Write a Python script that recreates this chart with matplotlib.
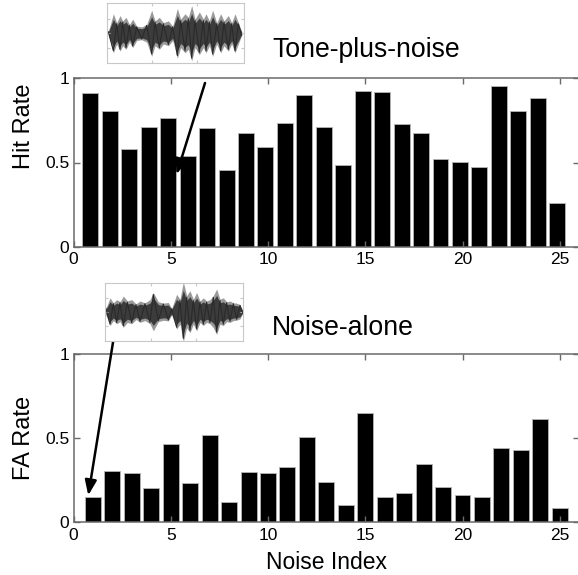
import numpy as np
import matplotlib
matplotlib.use("Agg")
import matplotlib.pyplot as plt

plt.rcParams['font.family'] = ['Liberation Sans', 'DejaVu Sans']

# ---- data ----
noise_index = list(range(1, 26))
hit_rate = [0.911, 0.804, 0.578, 0.713, 0.766, 0.539, 0.707, 0.457, 0.677, 0.592,
            0.737, 0.903, 0.713, 0.487, 0.925, 0.917, 0.729, 0.677, 0.519, 0.503,
            0.471, 0.956, 0.804, 0.881, 0.259]
fa_rate = [0.150, 0.307, 0.293, 0.202, 0.465, 0.232, 0.519, 0.119, 0.299, 0.293,
           0.331, 0.505, 0.240, 0.105, 0.648, 0.150, 0.172, 0.345, 0.210, 0.164,
           0.150, 0.444, 0.430, 0.616, 0.087]
xticks = [0, 5, 10, 15, 20, 25]
yticks = [0, 0.5, 1]
ytick_labels = ['0', '0.5', '1']

# waveform envelopes for insets (position within box 0..1, amplitude 0..1)
tone_env_x = [25, 40, 50, 60, 68, 78, 88, 98, 110, 125, 140, 155, 165, 178, 190, 205,
              218, 232, 242, 255, 265, 275, 285, 298, 310, 318, 328, 338, 350, 362,
              372, 385, 395, 405, 415, 425]
tone_env_a = [5, 55, 30, 50, 35, 45, 25, 40, 20, 18, 25, 65, 35, 45, 30, 35,
              20, 70, 40, 55, 45, 78, 40, 60, 40, 55, 35, 65, 30, 55,
              35, 50, 30, 55, 30, 5]
noise_env_x = [18, 30, 40, 50, 60, 70, 82, 95, 108, 120, 135, 150, 160, 175, 190, 205,
               215, 230, 240, 250, 260, 270, 280, 290, 300, 310, 320, 330, 340, 350,
               360, 370, 380, 390, 400, 410, 420, 428]
noise_env_a = [10, 39, 25, 34, 28, 44, 30, 34, 22, 30, 25, 34, 54, 28, 24, 26,
               9, 49, 35, 84, 45, 59, 35, 54, 30, 39, 30, 34, 45, 64,
               35, 39, 28, 30, 25, 24, 20, 5]

W, H = 578, 575
fig = plt.figure(figsize=(W / 100, H / 100), dpi=100)

spine_col = '#6a6a6a'
tick_fs = 12.5


def style_axes(ax):
    ax.set_xlim(0, 26)
    ax.set_ylim(0, 1)
    ax.set_xticks(xticks)
    ax.set_yticks(yticks)
    ax.set_yticklabels(ytick_labels)
    for s in ax.spines.values():
        s.set_color(spine_col)
        s.set_linewidth(1.1)
    ax.tick_params(direction='in', length=4, width=1, color=spine_col,
                   top=True, right=True, labelsize=tick_fs)
    ax.tick_params(axis='x', pad=4)
    ax.tick_params(axis='y', pad=3)


ax1 = fig.add_axes([73.5 / W, 1 - 246.7 / H, 26 * 19.45 / W, 168.4 / H])
ax1.bar(np.array(noise_index) - 0.13, hit_rate, width=0.82, color='black',
        edgecolor='#b5b5b5', linewidth=0.6)
style_axes(ax1)

ax2 = fig.add_axes([73.5 / W, 1 - 522.3 / H, 26 * 19.45 / W, 168.3 / H])
ax2.bar(noise_index, fa_rate, width=0.82, color='black',
        edgecolor='#b5b5b5', linewidth=0.6)
style_axes(ax2)

# labels
fig.text(23.5 / W, 1 - 126 / H, 'Hit Rate', rotation=90, ha='center', va='center', fontsize=17)
fig.text(23.5 / W, 1 - 438 / H, 'FA Rate', rotation=90, ha='center', va='center', fontsize=17)
fig.text(326.5 / W, 1 - 569.3 / H, 'Noise Index', ha='center', va='baseline', fontsize=16.5)
fig.text(272 / W, 1 - 57 / H, 'Tone-plus-noise', ha='left', va='baseline', fontsize=19.2)
fig.text(272 / W, 1 - 335 / H, 'Noise-alone', ha='left', va='baseline', fontsize=19.2)


def inset(rect, ex, ea, xr, half):
    ax = fig.add_axes(rect)
    x = (np.array(ex) - xr[0]) / (xr[1] - xr[0])
    a = np.array(ea) / half
    ax.fill_between(x, -a * 1.12, a * 1.12, color='#9a9a9a', lw=0)
    ax.fill_between(x, -a * 0.8, a * 0.8, color='#3c3c3c', lw=0)
    zig = a * np.where(np.arange(len(a)) % 2 == 0, 1, -1)
    ax.plot(x, zig, color='#2a2a2a', lw=0.8)
    ax.set_xlim(0, 1)
    ax.set_ylim(-1.05, 1.05)
    for s in ax.spines.values():
        s.set_color('#c8c8c8')
        s.set_linewidth(0.8)
    ax.set_xticks([0.33, 0.66])
    ax.set_yticks([-0.5, 0, 0.5])
    ax.tick_params(direction='in', length=2, color='#c8c8c8', labelbottom=False,
                   labelleft=False, top=True, right=True)
    return ax


inset([106.7 / W, 1 - 63.3 / H, 137.3 / W, 60 / H], tone_env_x, tone_env_a, (20, 432), 90)
inset([105 / W, 1 - 340.7 / H, 138.3 / W, 58 / H], noise_env_x, noise_env_a, (15, 430), 87)

arrow_kw = dict(arrowstyle='-|>,head_length=0.9,head_width=0.35', color='black', lw=1.8,
                shrinkA=0, shrinkB=0)
ax1.annotate('', xy=(5.3, 0.43), xycoords='data',
             xytext=(205 / W, 1 - 83 / H), textcoords='figure fraction',
             arrowprops=arrow_kw, annotation_clip=False)
ax2.annotate('', xy=(0.76, 0.16), xycoords='data',
             xytext=(113.3 / W, 1 - 340.5 / H), textcoords='figure fraction',
             arrowprops=arrow_kw, annotation_clip=False)

fig.savefig('out.png', dpi=100)
